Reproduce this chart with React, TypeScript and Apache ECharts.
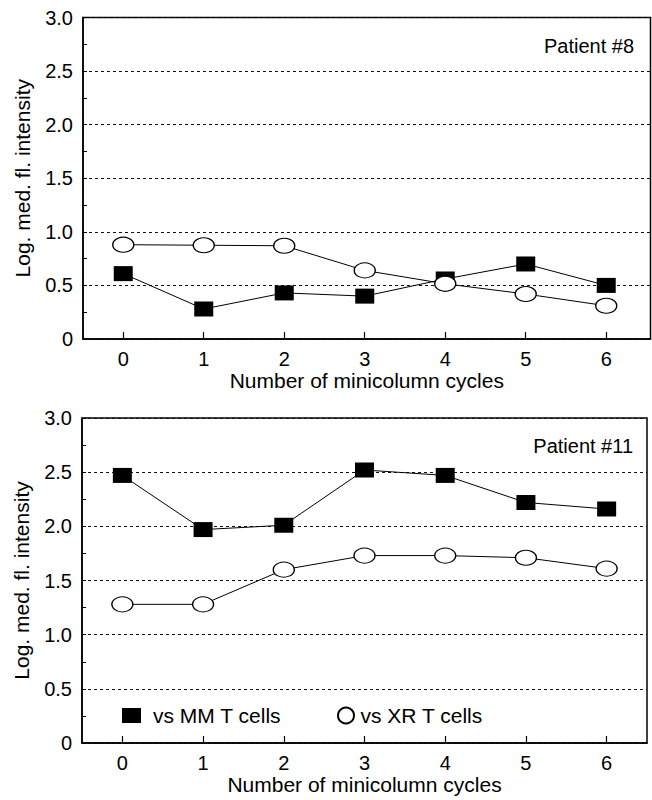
import React, { useEffect, useRef } from "react";
import * as echarts from "echarts";

const cycles = [0, 1, 2, 3, 4, 5, 6];
const yTicks = [0, 0.5, 1, 1.5, 2, 2.5, 3];

const p8MM = [0.61, 0.28, 0.43, 0.4, 0.56, 0.7, 0.5];
const p8XR = [0.88, 0.875, 0.87, 0.64, 0.515, 0.42, 0.31];
const p11MM = [2.47, 1.97, 2.01, 2.52, 2.47, 2.22, 2.16];
const p11XR = [1.28, 1.28, 1.6, 1.73, 1.73, 1.71, 1.61];

const panelTitles = ["Patient #8", "Patient #11"];
const seriesNames = ["vs MM T cells", "vs XR T cells"];
const xName = "Number of minicolumn cycles";
const yName = "Log. med. fl. intensity";

const FONT = "'Liberation Sans', Arial, Helvetica, sans-serif";

export default function App() {
  const ref = useRef<HTMLDivElement>(null);
  useEffect(() => {
    if (!ref.current) return;
    const chart = echarts.init(ref.current, null, { renderer: "svg" });

    const grids = [
      { left: 83, top: 17.5, width: 567.5, height: 321.5, show: true, borderColor: "#000", borderWidth: 1.5 },
      { left: 82, top: 418, width: 565, height: 325, show: true, borderColor: "#000", borderWidth: 1.5 },
    ];
    const xRanges = [
      [-0.5, 6.55],
      [-0.5, 6.5],
    ];

    const xAxes = grids.map((_, i) => ({
      type: "value",
      gridIndex: i,
      min: xRanges[i][0],
      max: xRanges[i][1],
      name: xName,
      nameLocation: "middle",
      nameGap: 30,
      nameTextStyle: { fontSize: 21, color: "#000", fontFamily: FONT },
      axisLine: { show: true, onZero: false, lineStyle: { color: "#000", width: 1.5 } },
      axisTick: { show: true, inside: true, length: 7, lineStyle: { color: "#000", width: 1.2 }, customValues: cycles },
      axisLabel: { fontSize: 20, color: "#000", fontFamily: FONT, margin: 10, customValues: cycles, formatter: (v: number) => String(v) },
      splitLine: { show: false },
    }));

    const yAxes = grids.map((_, i) => ({
      type: "value",
      gridIndex: i,
      min: yTicks[0],
      max: yTicks[yTicks.length - 1],
      interval: 0.5,
      name: yName,
      nameLocation: "middle",
      nameGap: 50,
      nameRotate: 90,
      nameTextStyle: { fontSize: 21, color: "#000", fontFamily: FONT },
      axisLine: { show: true, onZero: false, lineStyle: { color: "#000", width: 1.5 } },
      axisTick: { show: true, inside: true, length: 4, lineStyle: { color: "#000", width: 1 } },
      minorTick: { show: true, splitNumber: 2, length: 4, lineStyle: { color: "#000", width: 1 } },
      axisLabel: {
        fontSize: 20,
        color: "#000",
        fontFamily: FONT,
        margin: 10,
        formatter: (v: number) => (v === 0 ? "0" : v.toFixed(1)),
      },
      splitLine: { show: true, lineStyle: { color: "#111", type: [3, 3], width: 1 } },
    }));

    const mk = (name: string, vals: number[], gi: number, square: boolean) => ({
      type: "line",
      name,
      xAxisIndex: gi,
      yAxisIndex: gi,
      data: cycles.map((c, k) => [c, vals[k]]),
      symbol: square ? "rect" : "circle",
      symbolSize: square ? [19, 15] : [21, 15],
      lineStyle: { color: "#000", width: 1 },
      itemStyle: square
        ? { color: "#000", borderColor: "#000", borderWidth: 0 }
        : { color: "#fff", borderColor: "#000", borderWidth: 1.2 },
      z: square ? 2 : 3,
      silent: true,
    });

    chart.setOption({
      animation: false,
      backgroundColor: "#fff",
      textStyle: { fontFamily: FONT },
      title: [
        {
          text: panelTitles[0],
          right: 18,
          top: 36,
          padding: 0,
          textStyle: { fontSize: 20, fontWeight: "normal", color: "#000", fontFamily: FONT },
        },
        {
          text: panelTitles[1],
          right: 19,
          top: 436,
          padding: 0,
          textStyle: { fontSize: 20, fontWeight: "normal", color: "#000", fontFamily: FONT },
        },
      ],
      legend: [
        {
          data: [seriesNames[0]],
          left: 122,
          top: 705,
          padding: 0,
          icon: "rect",
          itemWidth: 19,
          itemHeight: 15,
          selectedMode: false,
          textStyle: { fontSize: 21, color: "#000", fontFamily: FONT, padding: [0, 0, 0, 7] },
        },
        {
          data: [seriesNames[1]],
          left: 337,
          top: 705,
          padding: 0,
          icon: "circle",
          itemWidth: 19,
          itemHeight: 16,
          selectedMode: false,
          textStyle: { fontSize: 21, color: "#000", fontFamily: FONT },
        },
      ],
      grid: grids,
      xAxis: xAxes,
      yAxis: yAxes,
      series: [
        mk(seriesNames[0], p8MM, 0, true),
        mk(seriesNames[1], p8XR, 0, false),
        mk(seriesNames[0], p11MM, 1, true),
        mk(seriesNames[1], p11XR, 1, false),
      ],
    });
    return () => chart.dispose();
  }, []);

  return (
    <div
      ref={ref}
      style={{ position: "absolute", left: 0, top: 0, width: 652, height: 800, background: "#fff" }}
    />
  );
}
